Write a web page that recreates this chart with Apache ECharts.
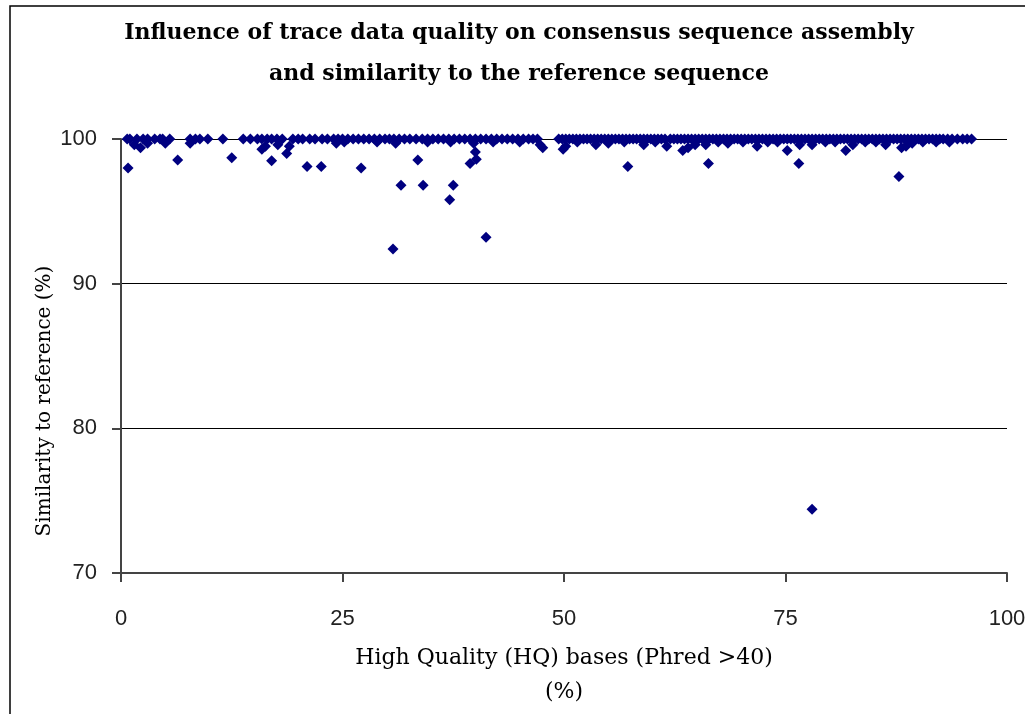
<!DOCTYPE html>
<html>
<head>
    <meta charset="utf-8">
    <title>Trace data quality</title>
    <script src="https://cdn.jsdelivr.net/npm/echarts@6/dist/echarts.min.js"></script>
    <style>
        html, body { margin: 0; padding: 0; background: #fff; }
    </style>
</head>
<body>
    <div id="main" style="width: 1025px;height:714px;"></div>
    <script type="text/javascript">
// x positions of the reads sitting on the 100 % line
var topX = [
    0.7, 1.0, 1.8, 2.5, 3.0, 3.8, 4.4, 4.7, 5.5, 7.8, 8.4, 8.9, 9.8, 11.5, 13.8, 14.6, 15.4, 15.9,
    16.5, 17.0, 17.6, 18.2, 19.4, 20.0, 20.5, 21.3, 21.9, 22.7, 23.3,
    24.0, 24.5, 25.0, 25.6, 26.2, 26.8, 27.4, 28.0, 28.6, 29.2, 29.8, 30.3, 30.8, 31.4, 32.0, 32.6,
    33.3, 34.0, 34.6, 35.2, 35.8, 36.4, 37.0, 37.6, 38.2, 38.8, 39.4, 40.0, 40.6, 41.2, 41.8, 42.4,
    43.0, 43.6, 44.2, 44.8, 45.4, 46.0, 46.5, 47.0,
    49.4, 49.8, 50.2, 50.6, 51.0, 51.4, 51.8, 52.2, 52.6, 53.0, 53.4, 53.8, 54.2, 54.6, 55.0, 55.4,
    55.8, 56.2, 56.6, 57.0, 57.4, 57.8, 58.2, 58.6, 59.0, 59.4, 59.8, 60.2, 60.6, 61.0, 61.4, 62.0,
    62.4, 62.8, 63.2, 63.6, 64.0, 64.4, 64.8, 65.2, 65.6, 66.0, 66.4, 66.8, 67.2, 67.6, 68.0, 68.4,
    68.8, 69.2, 69.6, 70.0, 70.4, 70.8, 71.2, 71.6, 72.0, 72.4, 72.8, 73.2, 73.6, 74.0, 74.4, 74.8,
    75.2, 75.6, 76.0, 76.4, 76.8, 77.2, 77.6, 78.0, 78.4, 78.8, 79.2, 79.6, 80.0, 80.4, 80.8, 81.2,
    81.6, 82.0, 82.4, 82.8, 83.2, 83.6, 84.0, 84.4, 84.8, 85.2, 85.6, 86.0, 86.4, 86.8, 87.2, 87.6,
    88.0, 88.4, 88.8, 89.2, 89.6, 90.0, 90.4, 90.8, 91.2, 91.6, 92.0, 92.4, 92.8, 93.3, 93.8, 94.4,
    95.0, 95.5, 96.0
];

// reads just under the line that thicken the band
var nearTop = [
    [1.5, 99.6], [2.2, 99.4], [3.0, 99.7], [5.0, 99.7], [7.8, 99.7], [15.9, 99.3], [16.3, 99.5],
    [17.7, 99.6], [19.0, 99.5], [24.3, 99.7], [25.2, 99.8], [28.9, 99.8], [31.0, 99.7], [34.6, 99.8],
    [37.2, 99.8], [39.8, 99.7], [42.0, 99.8], [45.0, 99.8], [47.3, 99.6], [47.6, 99.4],
    [49.9, 99.3], [50.2, 99.5], [51.5, 99.8], [53.6, 99.6], [55.0, 99.7], [56.8, 99.8], [59.0, 99.6],
    [60.3, 99.8], [61.6, 99.5], [63.4, 99.2], [64.0, 99.4], [64.8, 99.6], [66.0, 99.6], [67.4, 99.8],
    [68.5, 99.7], [70.2, 99.8], [71.8, 99.5], [73.0, 99.8], [74.1, 99.8], [75.2, 99.2], [76.6, 99.6],
    [78.0, 99.6], [79.5, 99.8], [80.6, 99.8], [81.8, 99.2], [82.6, 99.6], [84.0, 99.8], [85.2, 99.8],
    [86.3, 99.6], [88.1, 99.4], [88.6, 99.5], [89.3, 99.7], [90.5, 99.8], [92.0, 99.8], [93.5, 99.8]
];

// reads clearly below 100 %
var outliers = [
    [0.8, 98.0], [6.4, 98.55], [12.5, 98.7], [17.0, 98.5], [18.7, 99.0], [21.0, 98.1], [22.6, 98.1],
    [27.1, 98.0], [30.7, 92.4], [31.6, 96.8], [33.5, 98.55], [34.1, 96.8], [37.1, 95.8], [37.5, 96.8],
    [39.4, 98.3], [40.0, 99.1], [40.1, 98.6], [41.2, 93.2], [57.2, 98.1], [66.3, 98.3], [76.5, 98.3],
    [87.8, 97.4], [78.0, 74.4]
];

var xTicks = [0, 25, 50, 75, 100];
var yTicks = [70, 80, 90, 100];

var points = topX.map(function (x) { return [x, 100]; }).concat(nearTop, outliers);

var myChart = echarts.init(document.getElementById('main'));

var serif = '"DejaVu Serif", "Times New Roman", serif';
var sans = '"Liberation Sans", Arial, sans-serif';

var option = {
    backgroundColor: '#fff',
    animation: false,
    title: {
        text: 'Influence of trace data quality on consensus sequence assembly\nand similarity to the reference sequence',
        left: 514,
        textAlign: 'center',
        top: 8,
        textStyle: {
            fontFamily: serif,
            fontWeight: 'bold',
            fontSize: 22,
            lineHeight: 41,
            color: '#000'
        }
    },
    graphic: [{
        type: 'rect',
        shape: { x: 10, y: 6, width: 1040, height: 730 },
        style: { fill: null, stroke: '#000', lineWidth: 1.5 },
        silent: true,
        z: -1
    }, {
        // y axis title sits a little below the middle of the axis in the original
        type: 'text',
        x: 45,
        y: 401,
        rotation: Math.PI / 2,
        style: {
            text: 'Similarity to reference (%)',
            font: '20px ' + serif,
            fill: '#000',
            align: 'center',
            verticalAlign: 'middle'
        },
        silent: true
    }],
    grid: {
        left: 121,
        right: 18,
        top: 139,
        bottom: 141,
        outerBoundsMode: 'none'
    },
    xAxis: {
        type: 'value',
        min: 0,
        max: 100,
        interval: 25,
        name: 'High Quality (HQ) bases (Phred >40)\n(%)',
        nameLocation: 'middle',
        nameGap: 68,
        nameMoveOverlap: false,
        nameTextStyle: {
            fontFamily: serif,
            fontSize: 22,
            lineHeight: 34,
            color: '#000',
            verticalAlign: 'top'
        },
        splitLine: { show: false },
        axisLine: { lineStyle: { color: '#444', width: 2 } },
        axisTick: { show: true, inside: false, length: 9, lineStyle: { color: '#444', width: 2 } },
        axisLabel: {
            fontFamily: sans,
            fontSize: 22,
            color: '#222',
            margin: 35,
            formatter: function (v) { return xTicks.indexOf(v) >= 0 ? String(v) : ''; }
        }
    },
    yAxis: {
        type: 'value',
        min: 70,
        max: 100,
        interval: 10,
        axisLine: { show: true, lineStyle: { color: '#444', width: 2 } },
        axisTick: { show: true, inside: false, length: 9, lineStyle: { color: '#444', width: 2 } },
        splitLine: { show: true, lineStyle: { color: '#000', width: 1.2 } },
        axisLabel: {
            fontFamily: sans,
            fontSize: 22,
            color: '#222',
            margin: 24,
            formatter: function (v) { return yTicks.indexOf(v) >= 0 ? String(v) : ''; }
        }
    },
    series: [{
        type: 'scatter',
        symbol: 'diamond',
        symbolSize: 11,
        itemStyle: { color: '#000080', opacity: 1 },
        data: points
    }]
};

myChart.setOption(option);
    </script>
</body>
</html>
